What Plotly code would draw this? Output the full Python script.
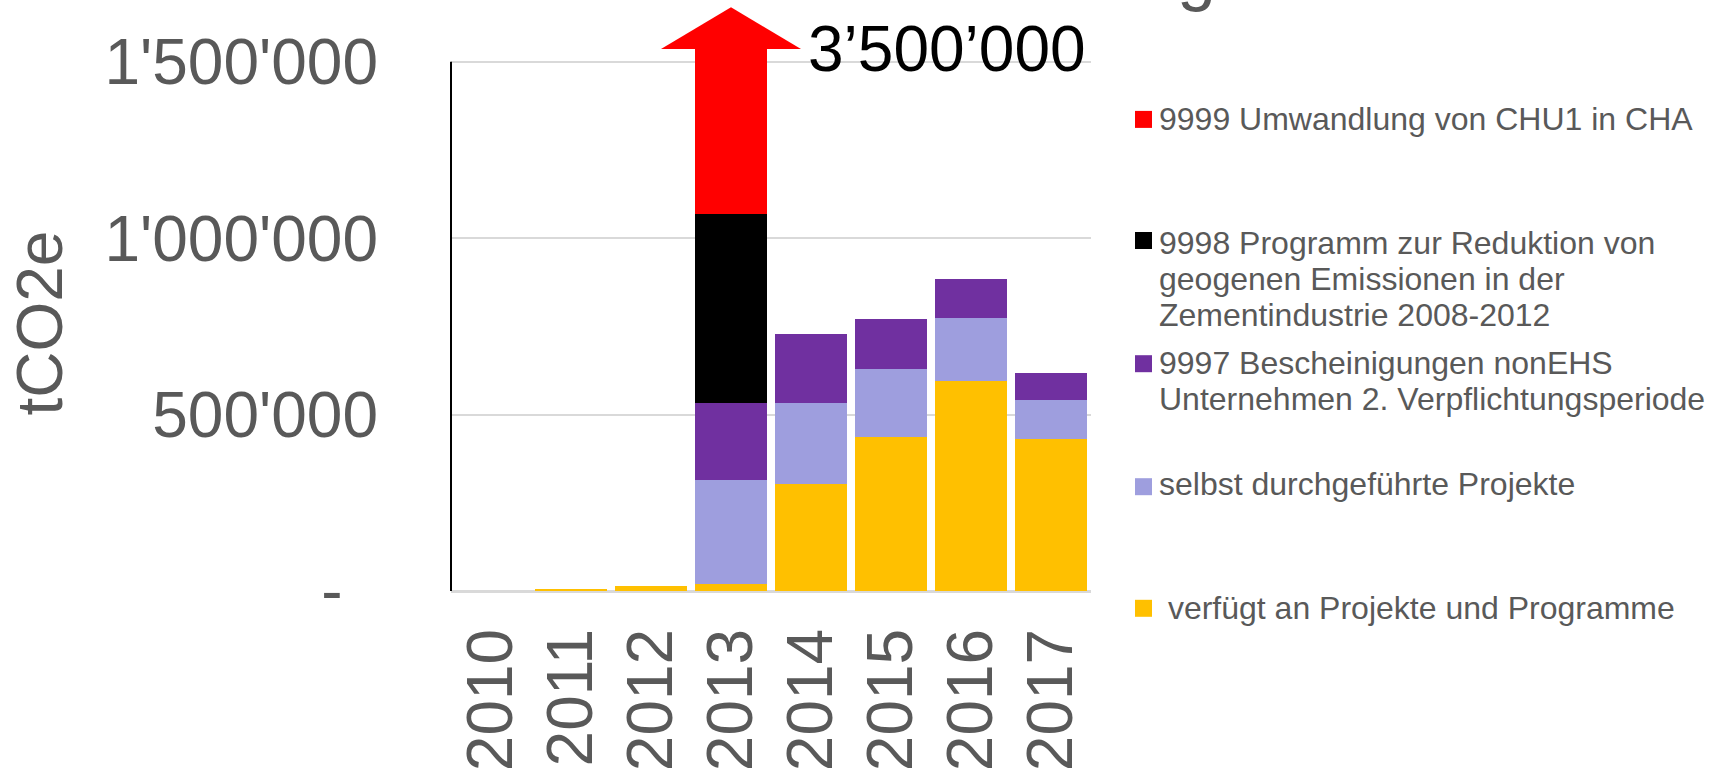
import plotly.graph_objects as go

# ---------------- data ----------------
years = ["2010", "2011", "2012", "2013", "2014", "2015", "2016", "2017"]
verfuegt = [0, 4000, 14000, 20000, 303000, 436000, 594000, 430000]      # verfügt an Projekte und Programme
selbst = [0, 0, 0, 295000, 230000, 194000, 179000, 110000]             # selbst durchgeführte Projekte
nonehs_9997 = [0, 0, 0, 218000, 196000, 142000, 111000, 79000]         # 9997
zement_9998 = [0, 0, 0, 536000, 0, 0, 0, 0]                            # 9998
chu1_9999 = [0, 0, 0, 2431000, 0, 0, 0, 0]                             # 9999 (bar truncated, total 3'500'000)
total_2013 = 3500000
arrow_year = "2013"

series_names = [
    "9999 Umwandlung von CHU1 in CHA",
    "9998 Programm zur Reduktion von<br>geogenen Emissionen in der<br>Zementindustrie 2008-2012",
    "9997 Bescheinigungen nonEHS<br>Unternehmen 2. Verpflichtungsperiode",
    "selbst durchgeführte Projekte",
    " verfügt an Projekte und Programme",
]
series_colors = ["#FF0000", "#000000", "#7030A0", "#9E9EDE", "#FFC000"]
series_values = [chu1_9999, zement_9998, nonehs_9997, selbst, verfuegt]

y_tickvals = [0, 500000, 1000000, 1500000]
y_ticktext = ["-\u00a0\u00a0", "500'000", "1'000'000", "1'500'000"]
y_title = "tCO2e"

# ---------------- layout geometry (pixels) ----------------
W, H = 1719, 772
L, T = 451, 49
PW, PH = 640, 542
Y_TOP = 1536300

FONT = "Liberation Sans, Arial, sans-serif"
GREY = "#595959"


def px(x):
    return (x - L) / PW


def py(y):
    return (T + PH - y) / PH


fig = go.Figure()
# stack bottom -> top
for name, color, vals in reversed(list(zip(series_names, series_colors, series_values))):
    fig.add_trace(go.Bar(x=years, y=vals, name=name.replace("<br>", " "),
                         marker=dict(color=color, line=dict(width=0))))

shapes = []
annotations = []

# black y axis line from 0 to top tick
shapes.append(dict(type="line", xref="paper", yref="y", x0=0, x1=0,
                   y0=0, y1=y_tickvals[-1], line=dict(color="black", width=2)))

# arrow head on top of the truncated 2013 bar
idx = years.index(arrow_year)
xc = (idx + 0.5) / len(years)
half = 70 / PW
y_base, y_tip = 1.0, py(7.3)
shapes.append(dict(type="path", xref="paper", yref="paper",
                   path=f"M {xc-half},{y_base} L {xc+half},{y_base} L {xc},{y_tip} Z",
                   fillcolor="#FF0000", line=dict(width=0)))

annotations.append(dict(text=f"{total_2013:,}".replace(",", "\u2019"), xref="paper", yref="paper",
                        x=px(806), y=py(49), xanchor="left", yanchor="middle", showarrow=False,
                        font=dict(family=FONT, size=64, color="black")))

# y-axis title
annotations.append(dict(text=y_title, xref="paper", yref="paper", x=px(39), y=py(323.5),
                        textangle=-90, xanchor="center", yanchor="middle", showarrow=False,
                        font=dict(family=FONT, size=64, color=GREY)))

# cut-off title remnant at the very top
annotations.append(dict(text="g", xref="paper", yref="paper", x=px(1196), y=py(-27),
                        xanchor="center", yanchor="middle", showarrow=False,
                        font=dict(family=FONT, size=70, color=GREY)))

# custom legend
leg_text_y = [118.8, 242.7, 362.5, 484.2, 608.3]
leg_mark_y = [119.4, 240.5, 363.7, 486.7, 608.3]
line_gap = 36
msize = 17
for name, color, ty, my in zip(series_names, series_colors, leg_text_y, leg_mark_y):
    shapes.append(dict(type="rect", xref="paper", yref="paper",
                       x0=px(1135), x1=px(1135 + msize), y0=py(my + msize / 2), y1=py(my - msize / 2),
                       fillcolor=color, line=dict(width=0)))
    for k, line in enumerate(name.split("<br>")):
        annotations.append(dict(text=line.replace(" ", "\u00a0", 1) if line.startswith(" ") else line,
                                xref="paper", yref="paper", x=px(1157), y=py(ty + k * line_gap),
                                xanchor="left", yanchor="middle", showarrow=False,
                                font=dict(family=FONT, size=32, color=GREY)))

fig.update_layout(
    width=W, height=H,
    margin=dict(l=L, r=W - L - PW, t=T, b=H - T - PH, autoexpand=False),
    paper_bgcolor="white", plot_bgcolor="white",
    barmode="stack", bargap=0.1,
    showlegend=False,
    shapes=shapes, annotations=annotations,
    xaxis=dict(type="category", range=[-0.5, len(years) - 0.5], tickangle=-90,
               tickfont=dict(family=FONT, size=64, color=GREY), ticks="",
               showline=False, showgrid=False, ticklabelstandoff=24),
    yaxis=dict(range=[0, Y_TOP], tickvals=y_tickvals, ticktext=y_ticktext,
               tickfont=dict(family=FONT, size=64, color=GREY), ticks="",
               showgrid=True, gridcolor="#D9D9D9", gridwidth=2,
               zeroline=True, zerolinecolor="#D9D9D9", zerolinewidth=2.5,
               showline=False, ticklabelstandoff=72),
)

fig.write_html("out.html", config={"displayModeBar": False},
               post_script="document.body.style.margin='0px';document.body.style.overflow='hidden';")
